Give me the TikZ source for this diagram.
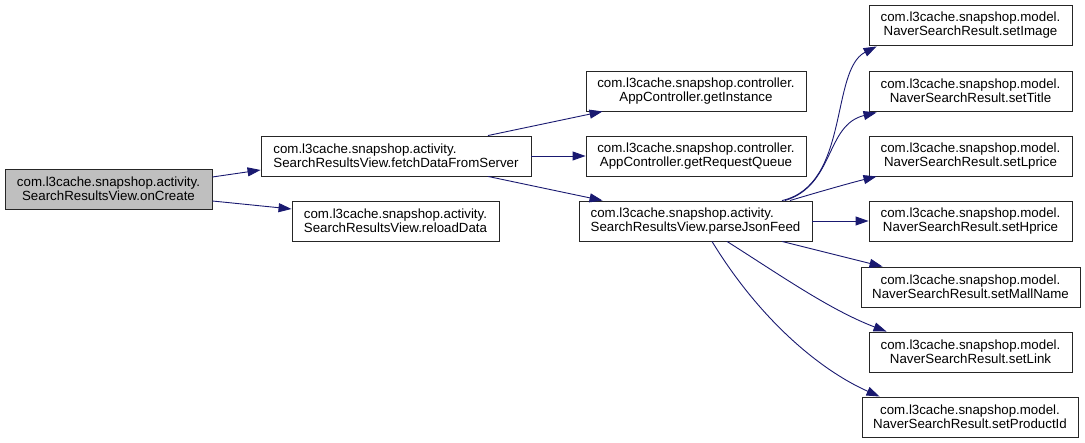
\documentclass[tikz,border=0pt]{standalone}
\usepackage{fontspec}
\setmainfont{Liberation Sans}
\usetikzlibrary{arrows.meta,calc}
\definecolor{edgeblue}{HTML}{191970}
\definecolor{graybox}{HTML}{BFBFBF}
\begin{document}
\begin{tikzpicture}[x=1pt,y=-1pt,
  box/.style={draw=black!85, line width=0.9pt, fill=white, inner sep=0pt, minimum height=40pt,
    font=\fontsize{13.3}{14}\selectfont},
  call/.style={draw=edgeblue, line width=0.9pt, -{Triangle[length=13pt,width=9pt]}, fill=none}]
\useasboundingbox (0,0) rectangle (1085,443);
\node[box, fill=graybox, minimum width=207pt, align=center] (oncreate) at (108.5,189) {com.l3cache.snapshop.activity.\\SearchResultsView.onCreate};
\node[box, minimum width=270pt, align=left] (fetch) at (396,156) {com.l3cache.snapshop.activity.\\SearchResultsView.fetchDataFromServer};
\node[box, minimum width=207pt, align=left] (reload) at (395.5,221) {com.l3cache.snapshop.activity.\\SearchResultsView.reloadData};
\node[box, minimum width=220pt, align=center] (getinst) at (696,91) {com.l3cache.snapshop.controller.\\AppController.getInstance};
\node[box, minimum width=220pt, align=center] (getrq) at (696,156) {com.l3cache.snapshop.controller.\\AppController.getRequestQueue};
\node[box, minimum width=233pt, align=left] (parse) at (695.5,221) {com.l3cache.snapshop.activity.\\SearchResultsView.parseJsonFeed};
\node[box, minimum width=203pt, align=center] (setimage) at (970.5,25) {com.l3cache.snapshop.model.\\NaverSearchResult.setImage};
\node[box, minimum width=203pt, align=center] (settitle) at (970.5,91) {com.l3cache.snapshop.model.\\NaverSearchResult.setTitle};
\node[box, minimum width=203pt, align=center] (setlprice) at (970.5,156) {com.l3cache.snapshop.model.\\NaverSearchResult.setLprice};
\node[box, minimum width=203pt, align=center] (sethprice) at (970.5,221) {com.l3cache.snapshop.model.\\NaverSearchResult.setHprice};
\node[box, minimum width=219pt, align=center] (setmall) at (970.5,287) {com.l3cache.snapshop.model.\\NaverSearchResult.setMallName};
\node[box, minimum width=203pt, align=center] (setlink) at (970.5,352) {com.l3cache.snapshop.model.\\NaverSearchResult.setLink};
\node[box, minimum width=216pt, align=center] (setprod) at (970,417) {com.l3cache.snapshop.model.\\NaverSearchResult.setProductId};

\draw[call] ($(oncreate.east)+(0,-12)$) -- ($(fetch.west)+(0,14)$);
\draw[call] ($(oncreate.east)+(0,12)$) -- ($(reload.west)+(0,-12)$);
\draw[call] ($(fetch.north)+(92,0)$) -- ($(getinst.south west)+(17,0)$);
\draw[call] (fetch.east) -- (getrq.west);
\draw[call] ($(fetch.south)+(92,0)$) -- ($(parse.north west)+(24,0)$);
\draw[call] ($(parse.north)+(86.5,0)$) .. controls (850,185) and (830,70) .. ($(setimage.south west)+(8,1)$);
\draw[call] ($(parse.north)+(89.5,0)$) .. controls (835,185) and (825,125) .. ($(settitle.south west)+(8,1)$);
\draw[call] ($(parse.north)+(94.5,0)$) .. controls (815,193) and (850,183) .. ($(setlprice.south west)+(8,0)$);
\draw[call] (parse.east) -- (sethprice.west);
\draw[call] ($(parse.south)+(86.5,0)$) -- ($(setmall.north west)+(22,0)$);
\draw[call] ($(parse.south)+(31.5,0)$) .. controls (780,275) and (830,310) .. ($(setlink.north west)+(18,0)$);
\draw[call] ($(parse.south)+(16.5,0)$) .. controls (760,320) and (820,370) .. ($(setprod.north west)+(18,0)$);
\end{tikzpicture}
\end{document}
